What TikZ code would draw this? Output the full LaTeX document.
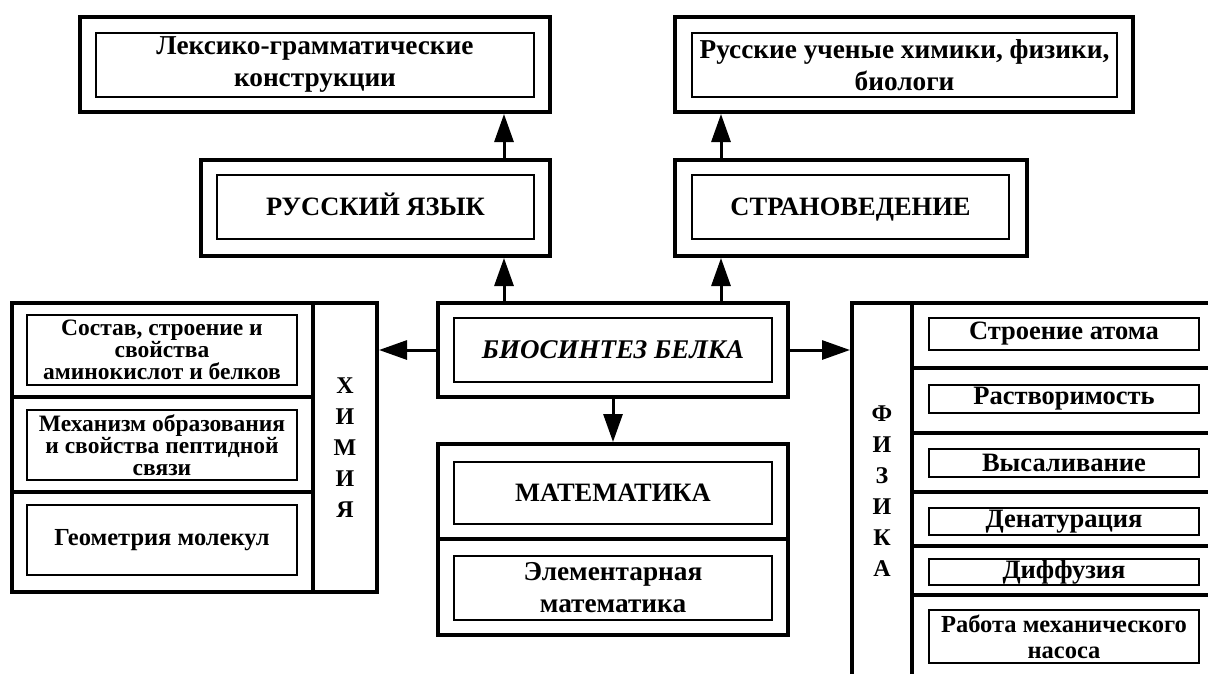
\documentclass[tikz,border=0pt]{standalone}
\usepackage{fontspec}
\setmainfont{Liberation Serif}
\usepackage{tikz}
\usetikzlibrary{
  arrows.meta,
  positioning,
  calc
}
\tikzset{
  box/.style 2 args={minimum width=#1pt, minimum height=#2pt},
  outerbox/.style={draw, line width=4pt, inner sep=0pt},
  innerbox/.style={
    draw, line width=1.5pt, inner sep=0pt, align=center,
    font=\bfseries\fontsize{26.5}{32}\selectfont
  },
  heading/.style={text height=17pt, text depth=0pt},
  toptext/.style={font=\bfseries\fontsize{27.3}{32}\selectfont},
  phystext/.style={font=\bfseries\fontsize{26.5}{28}\selectfont},
  pumptext/.style={font=\bfseries\fontsize{24.5}{26}\selectfont},
  vertword/.style={align=center, font=\bfseries\fontsize{24}{31}\selectfont},
  link/.style={line width=3pt, -{Triangle[length=28pt, width=19pt]}}
}

\begin{document}
\begin{tikzpicture}[x=1pt, y=-1pt]
  \useasboundingbox (0,0) rectangle (1208,673);
  \clip (0,0) rectangle (1208,673);

  % upper row
  \node[outerbox, box={470}{95}] (lexo) at (315,64.5) {};
  \node[innerbox, toptext, box={438}{64}] (lex) at (315,65)
    {Лексико-грамматические\\конструкции};
  \node[outerbox, box={458}{95}] (scio) at (904,64.5) {};
  \node[innerbox, toptext, box={425}{64}] (sci) at (904.5,65)
    {Русские ученые химики, физики,\\биологи};

  \node[outerbox, box={349}{96}] (ruso) at (375.5,208) {};
  \node[innerbox, heading, box={317}{64}] (rus) at (375.5,207) {РУССКИЙ ЯЗЫК};
  \node[outerbox, box={352}{96}] (strano) at (851,208) {};
  \node[innerbox, heading, box={317}{64}] (stran) at (850.5,207) {СТРАНОВЕДЕНИЕ};

  % centre
  \node[outerbox, box={350}{94}] (bioo) at (613,350) {};
  \node[innerbox, heading, box={318}{64}, font=\bfseries\itshape\fontsize{27}{32}\selectfont]
    (bio) at (613,350) {БИОСИНТЕЗ БЕЛКА};

  \node[outerbox, box={350}{95}] (matho) at (613,491.5) {};
  \node[innerbox, heading, box={318}{62}] (math) at (613,493) {МАТЕМАТИКА};
  \node[outerbox, box={350}{96}] (elemo) at (613,587) {};
  \node[innerbox, toptext, box={318}{64}] (elem) at (613,588)
    {Элементарная\\математика};

  % chemistry
  \node[outerbox, vertword, box={64}{289}] (chem) at (345,447.5)
    {Х\\И\\М\\И\\Я};
  \foreach \k/\cy/\h/\icy/\fs/\txt in {
    1/350/94/350/23.5/{Состав, строение и\\свойства\\аминокислот и белков},
    2/444.5/95/445/23.5/{Механизм образования\\и свойства пептидной\\связи},
    3/542/100/540/24.5/{Геометрия молекул}}{
    \node[outerbox, box={301}{\h}] (chemo\k) at (162.5,\cy) {};
    \node[innerbox, box={270}{70}, font=\bfseries\fontsize{\fs}{22}\selectfont]
      (chem\k) at (162,\icy) {\txt};
  }

  % physics
  \node[outerbox, vertword, box={60}{377}] (phys) at (882,491.5)
    {Ф\\И\\З\\И\\К\\А};
  \foreach \k/\cy/\h/\icy/\ih/\txt in {
    1/335.5/65/334/32/{Строение атома},
    2/400.5/65/399/28/{Растворимость},
    3/462.5/59/463/28/{Высаливание},
    4/519/54/521.5/27/{Денатурация},
    5/570.5/49/572/26/{Диффузия}}{
    \node[outerbox, box={303}{\h}] (physo\k) at (1063.5,\cy) {};
    \node[innerbox, phystext, box={270}{\ih}] (phys\k) at (1064,\icy) {\txt};
  }
  \node[outerbox, box={303}{95}] (physo6) at (1063.5,642.5) {};
  \node[innerbox, pumptext, box={270}{53}] (phys6) at (1064,636.5)
    {Работа механического\\насоса};

  % connectors
  \coordinate (rx) at ([xshift=-48pt]ruso.south east);
  \coordinate (sx) at ([xshift=48pt]strano.south west);
  \draw[link] (ruso.north -| rx) -- (lexo.south -| rx);
  \draw[link] (strano.north -| sx) -- (scio.south -| sx);
  \draw[link] (bioo.north -| rx) -- (rx);
  \draw[link] (bioo.north -| sx) -- (sx);
  \draw[link] (bioo.west) -- (chem.east |- bioo.west);
  \draw[link] (bioo.east) -- (phys.west |- bioo.east);
  \draw[link] (bioo.south) -- (matho.north);
\end{tikzpicture}
\end{document}
